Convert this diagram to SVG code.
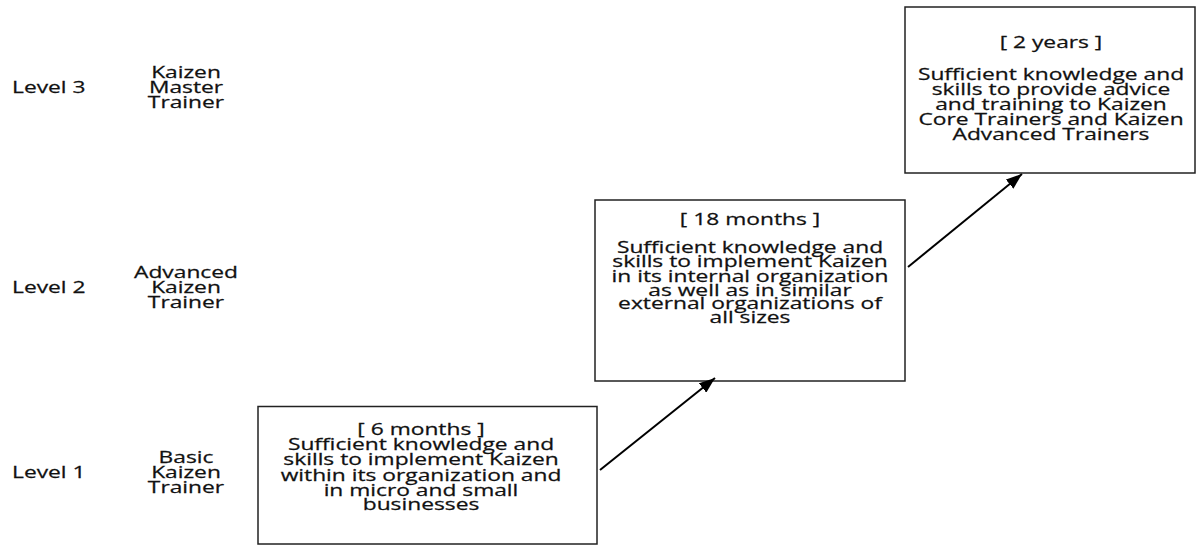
<svg xmlns="http://www.w3.org/2000/svg" width="1200" height="545" viewBox="0 0 1200 545">
  <style>
    .t { font-family: "Open Sans", "Liberation Sans", sans-serif; font-size: 16.5px; fill: #111; stroke: #111; stroke-width: 0.25; text-anchor: middle; }
    .ts { font-family: "Open Sans", "Liberation Sans", sans-serif; font-size: 16.5px; fill: #111; stroke: #111; stroke-width: 0.25; text-anchor: start; }
    .box { fill: #fff; stroke: #222; stroke-width: 1.5; }
    .link { stroke: #000; stroke-width: 2; fill: none; marker-end: url(#head); }
  </style>
  <defs>
    <marker id="head" markerUnits="userSpaceOnUse" viewBox="0 0 16 12" refX="16" refY="6" markerWidth="16" markerHeight="12" orient="auto">
      <path d="M0,0 L16,6 L0,12 Z" fill="#000"/>
    </marker>
  </defs>

  <rect width="1200" height="545" fill="#fff"/>

  <!-- level labels -->
  <g id="level3">
    <g transform="translate(12,0) scale(1.38,1)"><text class="ts" x="0" y="93">Level 3</text></g>
    <g transform="translate(186,0) scale(1.38,1)">
      <text class="t" x="0" y="78">Kaizen</text>
      <text class="t" x="0" y="93">Master</text>
      <text class="t" x="0" y="108">Trainer</text>
    </g>
  </g>
  <g id="level2">
    <g transform="translate(12,0) scale(1.38,1)"><text class="ts" x="0" y="293">Level 2</text></g>
    <g transform="translate(186,0) scale(1.38,1)">
      <text class="t" x="0" y="278">Advanced</text>
      <text class="t" x="0" y="293">Kaizen</text>
      <text class="t" x="0" y="308">Trainer</text>
    </g>
  </g>
  <g id="level1">
    <g transform="translate(12,0) scale(1.38,1)"><text class="ts" x="0" y="478">Level 1</text></g>
    <g transform="translate(186,0) scale(1.38,1)">
      <text class="t" x="0" y="463">Basic</text>
      <text class="t" x="0" y="478">Kaizen</text>
      <text class="t" x="0" y="493">Trainer</text>
    </g>
  </g>

  <!-- stage boxes -->
  <g id="basic">
    <rect class="box" x="258" y="406.5" width="339" height="137.5"/>
    <g transform="translate(421,0) scale(1.38,1)">
      <text class="t" x="0" y="435">[ 6 months ]</text>
      <text class="t" x="0" y="450">Sufficient knowledge and</text>
      <text class="t" x="0" y="465.5">skills to implement Kaizen</text>
      <text class="t" x="0" y="481">within its organization and</text>
      <text class="t" x="0" y="496">in micro and small</text>
      <text class="t" x="0" y="510.5">businesses</text>
    </g>
  </g>
  <g id="advanced">
    <rect class="box" x="595" y="200" width="310" height="181"/>
    <g transform="translate(750,0) scale(1.38,1)">
      <text class="t" x="0" y="225">[ 18 months ]</text>
      <text class="t" x="0" y="253">Sufficient knowledge and</text>
      <text class="t" x="0" y="267.5">skills to implement Kaizen</text>
      <text class="t" x="0" y="282">in its internal organization</text>
      <text class="t" x="0" y="296">as well as in similar</text>
      <text class="t" x="0" y="309.5">external organizations of</text>
      <text class="t" x="0" y="323">all sizes</text>
    </g>
  </g>
  <g id="master">
    <rect class="box" x="905" y="7" width="290" height="166"/>
    <g transform="translate(1051,0) scale(1.38,1)">
      <text class="t" x="0" y="48">[ 2 years ]</text>
      <text class="t" x="0" y="80">Sufficient knowledge and</text>
      <text class="t" x="0" y="95">skills to provide advice</text>
      <text class="t" x="0" y="110">and training to Kaizen</text>
      <text class="t" x="0" y="125">Core Trainers and Kaizen</text>
      <text class="t" x="0" y="140">Advanced Trainers</text>
    </g>
  </g>

  <!-- progression arrows -->
  <g id="connectors">
    <line class="link" x1="600" y1="470" x2="715" y2="378"/>
    <line class="link" x1="908" y1="267" x2="1022" y2="174"/>
  </g>
</svg>
